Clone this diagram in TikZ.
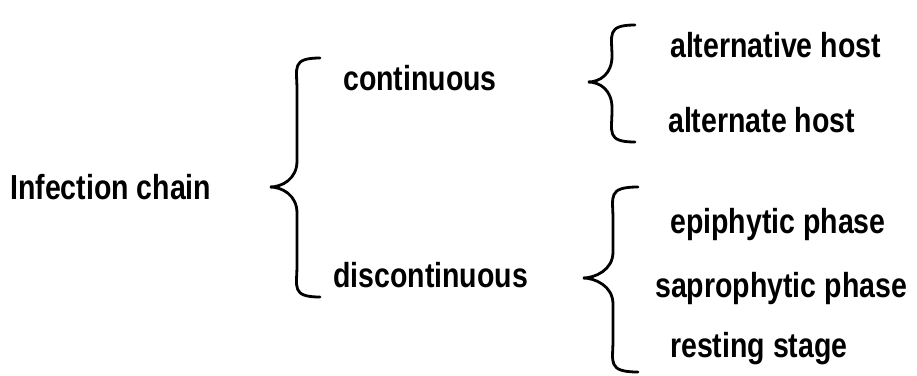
\documentclass[tikz,border=0pt]{standalone}
\usepackage{fontspec}
\setmainfont{Liberation Sans}
\usetikzlibrary{calc}
\newcommand{\tall}[1]{\scalebox{1}[1.22]{#1}}
\tikzset{
  lbl/.style={anchor=base west, inner sep=0pt,
    font=\fontsize{28.5}{33}\selectfont\bfseries},
  brc/.style={line width=2.8pt, line cap=round},
}
% curly brace: end x, stem x, tip x, top y, tip y, bottom y
\newcommand{\curlybrace}[6]{%
  \draw[brc] (#1,#4) .. controls (#2-6,#4) and (#2,#4+10) .. (#2,#4+32)
    -- (#2,#5-26) .. controls (#2,#5-8) and (#3+12,#5) .. (#3,#5)
    .. controls (#3+12,#5) and (#2,#5+8) .. (#2,#5+26)
    -- (#2,#6-32) .. controls (#2,#6-10) and (#2-6,#6) .. (#1,#6);}

\begin{document}
\begin{tikzpicture}[x=1pt,y=-1pt]
\useasboundingbox (0,0) rectangle (917,375);
% labels
\node[lbl] (chain) at (10,199) {\tall{Infection chain}};
\node[lbl] (cont) at (343,90) {\tall{continuous}};
\node[lbl] (disc) at (333,287) {\tall{discontinuous}};
\node[lbl] (alt1) at (670,57) {\tall{alternative host}};
\node[lbl] (alt2) at (668,132) {\tall{alternate host}};
\node[lbl] (epi) at (670,233) {\tall{epiphytic phase}};
\node[lbl] (sap) at (655,297) {\tall{saprophytic phase}};
\node[lbl] (rest) at (670,357) {\tall{resting stage}};
% braces
\curlybrace{320}{297}{270}{58}{187}{297}
\curlybrace{635}{612}{588}{25}{82}{142}
\curlybrace{638}{613}{583}{187}{278}{372}
\end{tikzpicture}
\end{document}
